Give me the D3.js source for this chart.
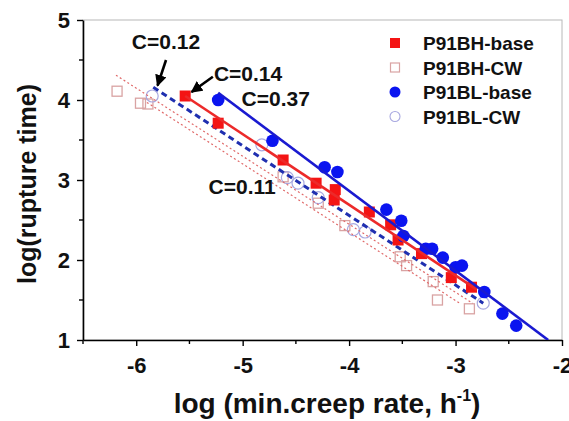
<!DOCTYPE html>
<html lang="en">
<head>
    <meta charset="UTF-8">
    <title>log(rupture time) vs log(min. creep rate)</title>
    <script src="https://d3js.org/d3.v7.min.js"></script>
    <style>
        body {
            margin: 0;
            padding: 0;
            background: #fff;
            font-family: "Liberation Sans", Arial, sans-serif;
        }
        svg {
            display: block;
        }
        .tick-label {
            font-size: 22px;
            font-weight: bold;
        }
        .axis-title {
            font-weight: bold;
        }
        .note {
            font-size: 21px;
            font-weight: bold;
        }
        .legend-text {
            font-size: 19px;
            font-weight: bold;
        }
    </style>
</head>
<body>
    <svg width="569" height="421"></svg>

    <script>
        // P91BH-base (filled red squares)
        const bhBase = [
            {x: -5.54, y: 4.05}, {x: -5.23, y: 3.71}, {x: -4.62, y: 3.25},
            {x: -4.31, y: 2.96}, {x: -4.13, y: 2.88}, {x: -4.14, y: 2.75},
            {x: -3.81, y: 2.60}, {x: -3.61, y: 2.44}, {x: -3.54, y: 2.25},
            {x: -3.32, y: 2.08}, {x: -3.04, y: 1.78}, {x: -2.85, y: 1.66}
        ];

        // P91BH-CW (open pink squares)
        const bhCW = [
            {x: -6.18, y: 4.11}, {x: -5.96, y: 3.96}, {x: -5.89, y: 3.95},
            {x: -4.62, y: 3.04}, {x: -4.29, y: 2.71}, {x: -4.04, y: 2.43},
            {x: -3.52, y: 2.04}, {x: -3.46, y: 1.93}, {x: -3.21, y: 1.73},
            {x: -3.17, y: 1.50}, {x: -2.87, y: 1.39}
        ];

        // P91BL-base (filled blue circles)
        const blBase = [
            {x: -5.23, y: 4.00}, {x: -4.72, y: 3.49}, {x: -4.23, y: 3.16},
            {x: -4.11, y: 3.10}, {x: -3.65, y: 2.63}, {x: -3.51, y: 2.49},
            {x: -3.49, y: 2.30}, {x: -3.28, y: 2.14}, {x: -3.22, y: 2.14},
            {x: -3.12, y: 2.03}, {x: -3.00, y: 1.91}, {x: -2.94, y: 1.93},
            {x: -2.73, y: 1.60}, {x: -2.56, y: 1.33}, {x: -2.43, y: 1.18}
        ];

        // P91BL-CW (open light blue circles)
        const blCW = [
            {x: -5.85, y: 4.05}, {x: -4.82, y: 3.44}, {x: -4.58, y: 3.03},
            {x: -4.48, y: 2.96}, {x: -4.29, y: 2.78}, {x: -3.96, y: 2.38},
            {x: -3.85, y: 2.35}, {x: -2.74, y: 1.46}
        ];

        // fitted lines (end points)
        const fitBLBase = [{x: -5.23, y: 4.09}, {x: -2.13, y: 1.0}];
        const fitBHBase = [{x: -5.54, y: 4.05}, {x: -2.80, y: 1.63}];
        const fitBLCW = [{x: -5.84, y: 4.16}, {x: -2.74, y: 1.46}];
        const fitBHCW = [{x: -6.19, y: 4.31}, {x: -2.84, y: 1.46}];
        const fitBHCW2 = [{x: -5.90, y: 3.97}, {x: -2.95, y: 1.45}];

        const xTicks = [-6, -5, -4, -3, -2];
        const yTicks = [1, 2, 3, 4, 5];
        const xMinor = [-6.5, -5.5, -4.5, -3.5, -2.5];
        const yMinor = [1.5, 2.5, 3.5, 4.5];

        const legendNames = ["P91BH-base", "P91BH-CW", "P91BL-base", "P91BL-CW"];

        // C labels + arrows
        const notes = [
            {text: "C=0.12", x: -5.72, y: 4.64, anchor: "middle"},
            {text: "C=0.14", x: -5.27, y: 4.24, anchor: "start"},
            {text: "C=0.37", x: -5.01, y: 3.92, anchor: "start"},
            {text: "C=0.11", x: -5.32, y: 2.82, anchor: "start"}
        ];
        const arrows = [
            {x1: -5.72, y1: 4.50, x2: -5.80, y2: 4.18},
            {x1: -5.28, y1: 4.29, x2: -5.48, y2: 4.10}
        ];

        const svg = d3.select("svg");
        const pLeft = 83, pRight = 562, pTop = 20, pBottom = 340;

        const x = d3.scaleLinear().domain([-6.5, -2]).range([pLeft, pRight]);
        const y = d3.scaleLinear().domain([1, 5]).range([pBottom, pTop]);

        const defs = svg.append("defs");
        defs.append("clipPath").attr("id", "plot")
            .append("rect")
            .attr("x", pLeft).attr("y", pTop)
            .attr("width", pRight - pLeft).attr("height", pBottom - pTop);
        defs.append("marker")
            .attr("id", "head")
            .attr("viewBox", "0 0 10 10")
            .attr("refX", 9).attr("refY", 5)
            .attr("markerWidth", 4.5).attr("markerHeight", 4.5)
            .attr("orient", "auto")
            .append("path")
            .attr("d", "M0,0 L10,5 L0,10 z")
            .attr("fill", "#000");

        // frame (top / right)
        svg.append("rect")
            .attr("x", pLeft).attr("y", pTop)
            .attr("width", pRight - pLeft).attr("height", pBottom - pTop)
            .attr("fill", "none")
            .attr("stroke", "#b8b8b8")
            .attr("stroke-width", 1);

        // axes
        const xAxis = svg.append("g")
            .attr("transform", `translate(0,${pBottom})`)
            .call(d3.axisBottom(x).tickValues(xTicks).tickSize(6).tickSizeOuter(0).tickFormat(d => String(d)));
        const yAxis = svg.append("g")
            .attr("transform", `translate(${pLeft},0)`)
            .call(d3.axisLeft(y).tickValues(yTicks).tickSize(6).tickSizeOuter(0).tickFormat(d => String(d)));

        [xAxis, yAxis].forEach(g => {
            g.select(".domain").attr("stroke", "#000").attr("stroke-width", 1.6);
            g.selectAll(".tick line").attr("stroke", "#000").attr("stroke-width", 1.4);
            g.selectAll(".tick text")
                .attr("class", "tick-label")
                .attr("fill", "#111")
                .style("font-family", "'Liberation Sans', Arial, sans-serif");
        });
        xAxis.selectAll(".tick text").attr("y", 12).attr("dy", "0.95em");
        yAxis.selectAll(".tick text").attr("x", -13);

        svg.append("g").selectAll("line")
            .data(xMinor)
            .join("line")
            .attr("x1", d => x(d)).attr("x2", d => x(d))
            .attr("y1", pBottom).attr("y2", pBottom + 4)
            .attr("stroke", "#000").attr("stroke-width", 1.4);
        svg.append("g").selectAll("line")
            .data(yMinor)
            .join("line")
            .attr("x1", pLeft - 4).attr("x2", pLeft)
            .attr("y1", d => y(d)).attr("y2", d => y(d))
            .attr("stroke", "#000").attr("stroke-width", 1.4);

        // axis titles
        const xt = svg.append("text")
            .attr("class", "axis-title")
            .attr("x", 327).attr("y", 413)
            .attr("text-anchor", "middle")
            .attr("font-size", "28px")
            .attr("fill", "#111");
        xt.append("tspan").text("log (min.creep rate, h");
        xt.append("tspan").text("-1").attr("font-size", "16px").attr("dy", -12);
        xt.append("tspan").text(")").attr("dy", 12);

        svg.append("text")
            .attr("class", "axis-title")
            .attr("transform", "translate(36,184) rotate(-90)")
            .attr("text-anchor", "middle")
            .attr("font-size", "25px")
            .attr("fill", "#111")
            .text("log(rupture time)");

        const plot = svg.append("g").attr("clip-path", "url(#plot)");
        const line = d3.line().x(d => x(d.x)).y(d => y(d.y));

        // CW points and lines underneath
        plot.selectAll(".bhcw")
            .data(bhCW)
            .join("rect")
            .attr("x", d => x(d.x) - 5).attr("y", d => y(d.y) - 5)
            .attr("width", 10).attr("height", 10)
            .attr("fill", "none")
            .attr("stroke", "#d9a3a3")
            .attr("stroke-width", 1.3);

        plot.selectAll(".blcw")
            .data(blCW)
            .join("circle")
            .attr("cx", d => x(d.x)).attr("cy", d => y(d.y))
            .attr("r", 6)
            .attr("fill", "none")
            .attr("stroke", "#a8a8e0")
            .attr("stroke-width", 1.2);

        [fitBHCW, fitBHCW2].forEach(f => {
            plot.append("path")
                .datum(f)
                .attr("d", line)
                .attr("fill", "none")
                .attr("stroke", "#e06a6a")
                .attr("stroke-width", 1.2)
                .attr("stroke-dasharray", "2,2.5");
        });

        plot.append("path")
            .datum(fitBLCW)
            .attr("d", line)
            .attr("fill", "none")
            .attr("stroke", "#1f2fb0")
            .attr("stroke-width", 3)
            .attr("stroke-dasharray", "6,4");

        plot.selectAll(".bhbase")
            .data(bhBase)
            .join("rect")
            .attr("x", d => x(d.x) - 5.5).attr("y", d => y(d.y) - 5.5)
            .attr("width", 11).attr("height", 11)
            .attr("fill", "#f41414");

        plot.selectAll(".blbase")
            .data(blBase)
            .join("circle")
            .attr("cx", d => x(d.x)).attr("cy", d => y(d.y))
            .attr("r", 6.3)
            .attr("fill", "#0a14f0");

        plot.append("path")
            .datum(fitBHBase)
            .attr("d", line)
            .attr("fill", "none")
            .attr("stroke", "#ec2a2a")
            .attr("stroke-width", 2.6);

        plot.append("path")
            .datum(fitBLBase)
            .attr("d", line)
            .attr("fill", "none")
            .attr("stroke", "#1a1ad0")
            .attr("stroke-width", 2.6);

        // annotations
        svg.selectAll(".note")
            .data(notes)
            .join("text")
            .attr("class", "note")
            .attr("x", d => x(d.x)).attr("y", d => y(d.y))
            .attr("text-anchor", d => d.anchor)
            .attr("fill", "#111")
            .text(d => d.text);

        svg.selectAll(".arrow")
            .data(arrows)
            .join("line")
            .attr("x1", d => x(d.x1)).attr("y1", d => y(d.y1))
            .attr("x2", d => x(d.x2)).attr("y2", d => y(d.y2))
            .attr("stroke", "#000")
            .attr("stroke-width", 2.6)
            .attr("marker-end", "url(#head)");

        // legend
        const lg = svg.append("g");
        legendNames.forEach((name, i) => {
            const ly = 43 + i * 24.5;
            const row = lg.append("g").attr("transform", `translate(395,${ly})`);
            if (i === 0) {
                row.append("rect").attr("x", -5).attr("y", -5).attr("width", 10).attr("height", 10)
                    .attr("fill", "#f41414");
            } else if (i === 1) {
                row.append("rect").attr("x", -4.5).attr("y", -4.5).attr("width", 9).attr("height", 9)
                    .attr("fill", "none").attr("stroke", "#d9a3a3").attr("stroke-width", 1.2);
            } else if (i === 2) {
                row.append("circle").attr("r", 5.5).attr("fill", "#0a14f0");
            } else {
                row.append("circle").attr("r", 5).attr("fill", "none")
                    .attr("stroke", "#a8a8e0").attr("stroke-width", 1.1);
            }
            row.append("text")
                .attr("class", "legend-text")
                .attr("x", 28).attr("y", 7)
                .attr("fill", "#111")
                .text(name);
        });
    </script>
</body>
</html>
